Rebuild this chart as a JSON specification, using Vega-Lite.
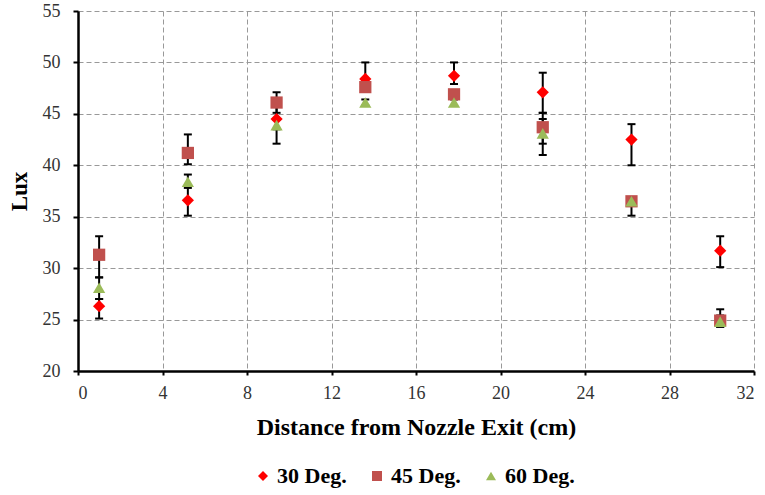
{
  "$schema": "https://vega.github.io/schema/vega-lite/v6.json",
  "width": 676,
  "height": 360,
  "autosize": "none",
  "padding": {"left": 78, "top": 11, "right": 11, "bottom": 124},
  "background": "white",
  "config": {
    "view": {"stroke": null},
    "font": "Liberation Serif"
  },
  "data": {
    "values": [
      {"series": "30 Deg.", "x": 1.0, "y": 26.3, "lo": 25.1, "hi": 27.0},
      {"series": "45 Deg.", "x": 1.0, "y": 31.3, "lo": 29.1, "hi": 33.1},
      {"series": "60 Deg.", "x": 1.0, "y": 28.1, "lo": 27.0, "hi": 29.1},
      {"series": "30 Deg.", "x": 5.2, "y": 36.6, "lo": 35.1, "hi": 38.0},
      {"series": "45 Deg.", "x": 5.2, "y": 41.2, "lo": 40.1, "hi": 43.0},
      {"series": "60 Deg.", "x": 5.2, "y": 38.4, "lo": 37.8, "hi": 39.1},
      {"series": "30 Deg.", "x": 9.4, "y": 44.5, "lo": 42.1, "hi": 46.5},
      {"series": "45 Deg.", "x": 9.4, "y": 46.1, "lo": 45.1, "hi": 47.1},
      {"series": "60 Deg.", "x": 9.4, "y": 43.9, "lo": 43.5, "hi": 44.4},
      {"series": "30 Deg.", "x": 13.6, "y": 48.4, "lo": 47.8, "hi": 50.0},
      {"series": "45 Deg.", "x": 13.6, "y": 47.6, "lo": 47.2, "hi": 48.0},
      {"series": "60 Deg.", "x": 13.6, "y": 46.1, "lo": 45.8, "hi": 46.4},
      {"series": "30 Deg.", "x": 17.8, "y": 48.7, "lo": 47.9, "hi": 50.0},
      {"series": "45 Deg.", "x": 17.8, "y": 46.9, "lo": 46.5, "hi": 47.3},
      {"series": "60 Deg.", "x": 17.8, "y": 46.1, "lo": 45.8, "hi": 46.4},
      {"series": "30 Deg.", "x": 22.0, "y": 47.1, "lo": 45.1, "hi": 49.0},
      {"series": "45 Deg.", "x": 22.0, "y": 43.7, "lo": 42.1, "hi": 45.1},
      {"series": "60 Deg.", "x": 22.0, "y": 43.1, "lo": 41.0, "hi": 44.5},
      {"series": "30 Deg.", "x": 26.2, "y": 42.5, "lo": 40.0, "hi": 44.0},
      {"series": "45 Deg.", "x": 26.2, "y": 36.5, "lo": 35.1, "hi": 36.9},
      {"series": "60 Deg.", "x": 26.2, "y": 36.5, "lo": 36.1, "hi": 36.9},
      {"series": "30 Deg.", "x": 30.4, "y": 31.7, "lo": 30.1, "hi": 33.1},
      {"series": "45 Deg.", "x": 30.4, "y": 24.9, "lo": 24.3, "hi": 26.0},
      {"series": "60 Deg.", "x": 30.4, "y": 24.8, "lo": 24.3, "hi": 25.4}
    ]
  },
  "layer": [
    {
      "mark": {"type": "rule", "color": "black", "strokeWidth": 2},
      "encoding": {
        "x": {"field": "x", "type": "quantitative"},
        "y": {"field": "lo", "type": "quantitative"},
        "y2": {"field": "hi"}
      }
    },
    {
      "mark": {"type": "tick", "color": "black", "orient": "horizontal", "size": 8, "thickness": 2, "opacity": 1},
      "encoding": {
        "x": {"field": "x", "type": "quantitative"},
        "y": {"field": "lo", "type": "quantitative"}
      }
    },
    {
      "mark": {"type": "tick", "color": "black", "orient": "horizontal", "size": 8, "thickness": 2, "opacity": 1},
      "encoding": {
        "x": {"field": "x", "type": "quantitative"},
        "y": {"field": "hi", "type": "quantitative"}
      }
    },
    {
      "mark": {"type": "point", "filled": true, "opacity": 1, "size": 150},
      "encoding": {
        "x": {
          "field": "x", "type": "quantitative",
          "scale": {"domain": [0, 32], "nice": false, "zero": false},
          "axis": {
            "title": "Distance from Nozzle Exit (cm)",
            "values": [0, 4, 8, 12, 16, 20, 24, 28, 32],
            "labelFont": "Liberation Serif", "labelFontSize": 18, "labelColor": "#333333",
            "labelPadding": 9,
            "titleFont": "Liberation Serif", "titleFontSize": 24, "titleFontWeight": "bold", "titleColor": "black",
            "titlePadding": 13,
            "domainColor": "black", "domainWidth": 2.5,
            "tickColor": "black", "tickSize": 4, "tickWidth": 2,
            "grid": true, "gridColor": "#999999", "gridDash": [5, 3], "gridWidth": 1
          }
        },
        "y": {
          "field": "y", "type": "quantitative",
          "scale": {"domain": [20, 55], "nice": false, "zero": false},
          "axis": {
            "title": "Lux",
            "values": [20, 25, 30, 35, 40, 45, 50, 55],
            "labelFont": "Liberation Serif", "labelFontSize": 18, "labelColor": "#333333",
            "labelPadding": 13,
            "titleFont": "Liberation Serif", "titleFontSize": 23, "titleFontWeight": "bold", "titleColor": "black",
            "titlePadding": 11,
            "domainColor": "black", "domainWidth": 2.5,
            "tickColor": "black", "tickSize": 5, "tickWidth": 2,
            "grid": true, "gridColor": "#999999", "gridDash": [5, 3], "gridWidth": 1
          }
        },
        "color": {
          "field": "series", "type": "nominal",
          "scale": {"domain": ["30 Deg.", "45 Deg.", "60 Deg."], "range": ["#FF0000", "#C0504D", "#9BBB59"]},
          "legend": {
            "title": null, "orient": "none", "direction": "horizontal",
            "legendX": 174, "legendY": 454,
            "labelFont": "Liberation Serif", "labelFontSize": 22, "labelFontWeight": "bold", "labelColor": "black",
            "symbolSize": 100, "symbolOpacity": 1, "columnPadding": 19, "labelOffset": 3
          }
        },
        "shape": {
          "field": "series", "type": "nominal",
          "scale": {"domain": ["30 Deg.", "45 Deg.", "60 Deg."], "range": ["diamond", "square", "triangle-up"]},
          "legend": null
        },
        "order": {"field": "series"}
      }
    }
  ]
}
